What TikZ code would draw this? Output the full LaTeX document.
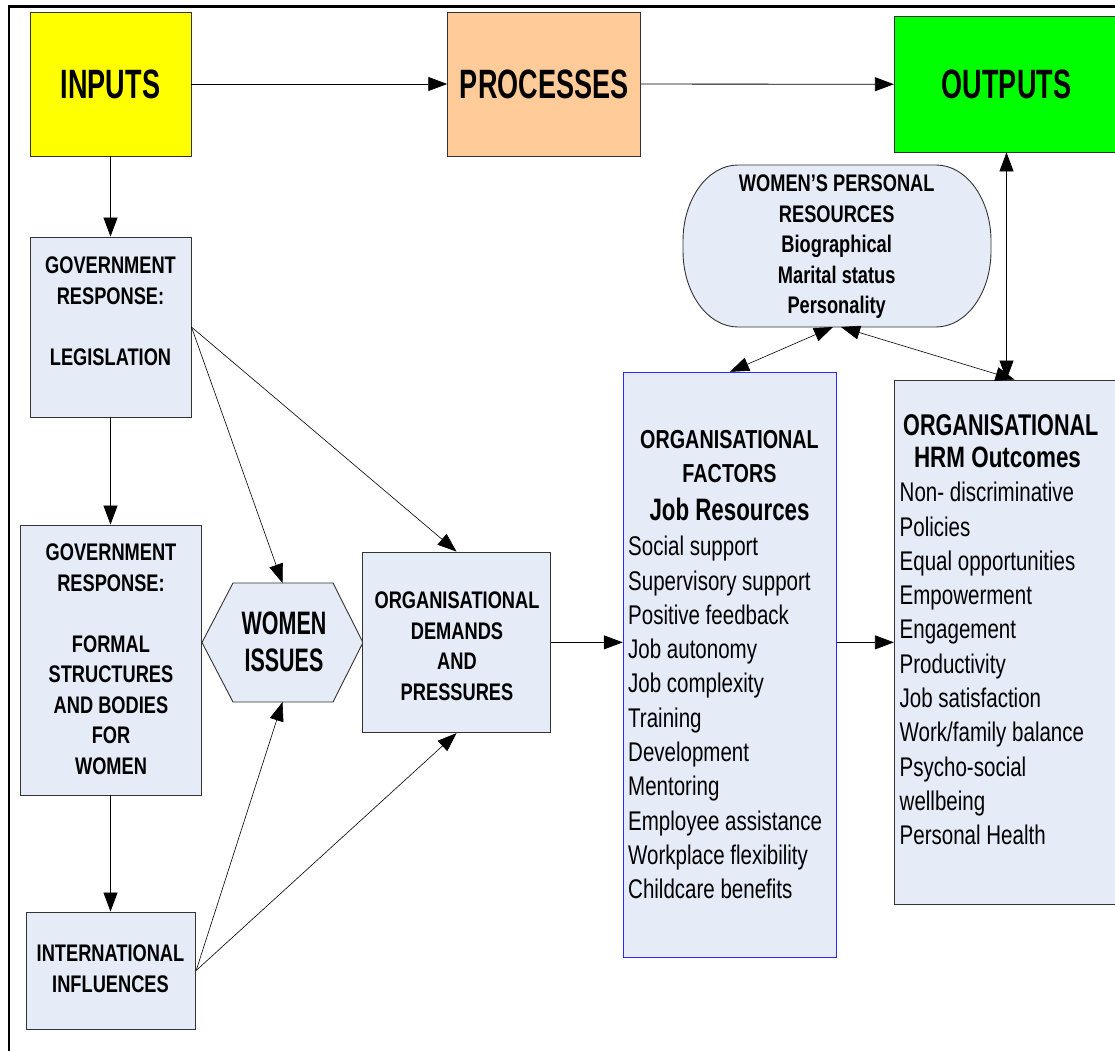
\documentclass[tikz,border=0pt]{standalone}
\usepackage{fontspec}
\setmainfont{Liberation Sans}
\newfontfamily\fa[FakeStretch=0.76]{Liberation Sans}
\newfontfamily\fb[FakeStretch=0.66]{Liberation Sans}
\newfontfamily\fc[FakeStretch=0.72]{Liberation Sans}
\usetikzlibrary{arrows.meta}
\definecolor{boxfill}{RGB}{229,235,247}
\definecolor{peach}{RGB}{255,204,153}
\definecolor{yel}{RGB}{255,255,0}
\definecolor{grn}{RGB}{0,255,0}
\definecolor{facblue}{RGB}{40,40,255}
\tikzset{
  box/.style={rectangle, draw=black!80, line width=0.9pt, fill=boxfill, inner sep=0pt},
  ghost/.style={rectangle, inner sep=0pt, outer sep=0pt},
  bigtxt/.style={font=\fb\bfseries\fontsize{41}{41}\selectfont},
  hd/.style={inner sep=0pt, align=center, anchor=north, font=\fa\bfseries\fontsize{24}{30.5}\selectfont},
  items/.style={inner sep=0pt, align=left, anchor=north west, font=\fa\fontsize{27}{34.3}\selectfont},
  arr/.style={-{Triangle[length=19pt,width=14pt]}, line width=0.8pt},
  darr/.style={{Triangle[length=19pt,width=14pt]}-{Triangle[length=19pt,width=14pt]}, line width=0.8pt}
}
\begin{document}
\begin{tikzpicture}[x=1pt,y=-1pt]
\clip (0,0) rectangle (1115,1050);
\fill[white] (0,0) rectangle (1115,1050);
% outer frame
\draw[line width=2.6pt] (9,1055) -- (9,6.7) -- (1120,6.7);

% top row
\node[box, fill=yel, minimum width=161pt, minimum height=144pt, bigtxt] (in) at (110.5,84) {INPUTS};
\node[box, fill=peach, minimum width=193pt, minimum height=144pt, bigtxt] (proc) at (544.2,84) {PROCESSES};
\node[box, fill=grn, minimum width=224.4pt, minimum height=135.3pt, bigtxt] (out) at (1006.5,84.3) {OUTPUTS};

% left column
\node[box, minimum width=161pt, minimum height=180pt] (g1) at (110.5,327) {};
\node[hd] (g1t) at (110.5,256.7) {GOVERNMENT\\RESPONSE:\\[30.5pt]LEGISLATION};

\node[box, minimum width=181pt, minimum height=270pt] (g2) at (110.5,660) {};
\node[hd] (g2t) at (111,543.7) {GOVERNMENT\\RESPONSE:\\[30.5pt]FORMAL\\STRUCTURES\\AND BODIES\\FOR\\WOMEN};

\node[box, minimum width=169.7pt, minimum height=117pt] (intl) at (110.85,970.5) {};
\node[hd, font=\fa\bfseries\fontsize{24}{31}\selectfont] (intlt) at (110.5,945) {INTERNATIONAL\\INFLUENCES};

% women issues hexagon
\node[ghost, minimum width=161pt, minimum height=119pt] (wi) at (282.5,642.5) {};
\draw[draw=black!80, line width=0.9pt, fill=boxfill] (wi.west) -- ([xshift=31pt]wi.north west) -- ([xshift=-30pt]wi.north east) -- (wi.east) -- ([xshift=-30pt]wi.south east) -- ([xshift=31pt]wi.south west) -- cycle;
\node[hd, font=\fb\bfseries\fontsize{32.5}{36.7}\selectfont] (wit) at (284,611.7) {WOMEN\\ISSUES};

% organisational demands
\node[box, minimum width=188.4pt, minimum height=180.7pt] (dem) at (456.5,642.35) {};
\node[hd] (demt) at (457,592) {ORGANISATIONAL\\DEMANDS\\AND\\PRESSURES};

% organisational factors
\node[box, draw=facblue, line width=1pt, minimum width=213.4pt, minimum height=584.7pt] (fac) at (730,664.65) {};
\node[hd, font=\fa\bfseries\fontsize{26}{34}\selectfont] (fact) at (729.5,430) {ORGANISATIONAL\\FACTORS};
\node[inner sep=0pt, anchor=base, font=\fc\bfseries\fontsize{31}{31}\selectfont] (facj) at (729.5,520) {Job Resources};
\node[items] (faci) at (628,536) {Social support\\Supervisory support\\Positive feedback\\Job autonomy\\Job complexity\\Training\\Development\\Mentoring\\Employee assistance\\Workplace flexibility\\Childcare benefits};

% HRM outcomes
\node[box, minimum width=230.7pt, minimum height=524pt] (hrm) at (1009.65,642) {};
\node[inner sep=0pt, anchor=base, font=\fc\bfseries\fontsize{30}{30}\selectfont] (hrmt) at (1000.8,435) {ORGANISATIONAL};
\node[inner sep=0pt, anchor=base, font=\fa\bfseries\fontsize{29.5}{29.5}\selectfont] (hrmo) at (997.5,467) {HRM Outcomes};
\node[items] (hrmi) at (899.5,482) {Non- discriminative\\Policies\\Equal opportunities\\Empowerment\\Engagement\\Productivity\\Job satisfaction\\Work/family balance\\Psycho-social\\wellbeing\\Personal Health};

% women's personal resources
\node[ghost, minimum width=308pt, minimum height=162pt] (pr) at (837,246) {};
\draw[draw=black!80, line width=0.9pt, fill=boxfill] (738,165) -- (936,165)
  arc[start angle=270, end angle=360, x radius=55, y radius=76] -- (991,251)
  arc[start angle=0, end angle=90, x radius=55, y radius=76] -- (738,327)
  arc[start angle=90, end angle=180, x radius=55, y radius=76] -- (683,241)
  arc[start angle=180, end angle=270, x radius=55, y radius=76] -- cycle;
\node[hd, font=\fa\bfseries\fontsize{24}{30.5}\selectfont] (prt) at (836.7,175) {WOMEN’S PERSONAL\\RESOURCES\\Biographical\\Marital status\\Personality};

% connectors
\draw[arr] (in) -- (proc);
\draw[arr] (proc) -- (out);
\draw[arr] (in) -- (g1);
\draw[arr] (g1) -- (g2);
\draw[arr] (g2.south) -- (g2.south |- intl.north);
\draw[arr, line width=0.6pt] (g1.east) -- (wi.north);
\draw[arr, line width=0.6pt] (g1.east) -- (dem.north);
\draw[arr, line width=0.6pt] (intl.east) -- (wi.south);
\draw[arr, line width=0.6pt] (intl.east) -- (dem.south);
\draw[arr] (dem.east) -- (dem.east -| fac.west);
\draw[arr] (fac.east |- dem.east) -- (hrm.west |- dem.east);
\draw[darr] (out.south) -- (out.south |- hrm.north);
\draw[darr, line width=0.6pt] ([xshift=-4pt]pr.south) -- (fac.north);
\draw[darr, line width=0.6pt] ([xshift=4pt]pr.south) -- ([xshift=8pt]out.south |- hrm.north);
\end{tikzpicture}
\end{document}
